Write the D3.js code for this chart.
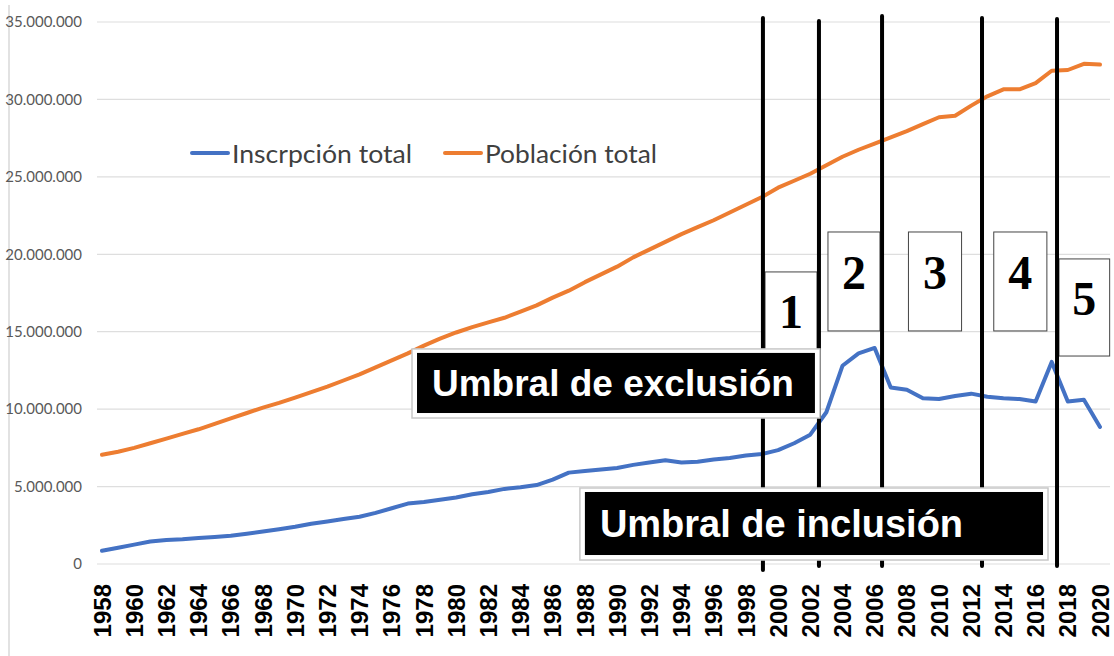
<!DOCTYPE html>
<html>
<head>
<meta charset="utf-8">
<script src="https://cdn.jsdelivr.net/npm/d3@7"></script>
<style>
  body { margin: 0; background: #fff; }
  svg { display: block; }
</style>
</head>
<body>
<svg width="1114" height="656"></svg>
<script>
// years on the x axis, one point per year
const years = d3.range(1958, 2021);

// Inscripción total (school enrollment)
const enrollment = [
  0.85, 1.05, 1.25, 1.45, 1.55, 1.6, 1.68, 1.75, 1.82, 1.95,
  2.1, 2.25, 2.4, 2.6, 2.75, 2.9, 3.05, 3.3, 3.6, 3.9,
  4.0, 4.15, 4.3, 4.5, 4.65, 4.85, 4.95, 5.1, 5.45, 5.9,
  6.0, 6.1, 6.2, 6.4, 6.55, 6.7, 6.55, 6.6, 6.75, 6.85,
  7.0, 7.1, 7.35, 7.8, 8.35, 9.8, 12.8, 13.6, 13.95, 11.4,
  11.25, 10.7, 10.65, 10.85, 11.0, 10.8, 10.7, 10.65, 10.5, 13.05,
  10.5, 10.6, 8.85
].map(v => v * 1e6);

// Población total
const population = [
  7.05, 7.25, 7.5, 7.8, 8.1, 8.4, 8.7, 9.05, 9.4, 9.75,
  10.1, 10.4, 10.75, 11.1, 11.45, 11.85, 12.25, 12.7, 13.15, 13.6,
  14.1, 14.55, 14.95, 15.3, 15.6, 15.9, 16.3, 16.7, 17.2, 17.65,
  18.2, 18.7, 19.2, 19.8, 20.3, 20.8, 21.3, 21.75, 22.2, 22.7,
  23.2, 23.7, 24.3, 24.75, 25.2, 25.75, 26.3, 26.75, 27.15, 27.55,
  27.95, 28.4, 28.85, 28.95, 29.6, 30.2, 30.65, 30.65, 31.05, 31.85,
  31.9, 32.3, 32.25
].map(v => v * 1e6);

const yTicks = [0, 5e6, 10e6, 15e6, 20e6, 25e6, 30e6, 35e6];
const xTickYears = years.filter(y => (y - 1958) % 2 === 0);

const seriesNames = ['Inscrpción total', 'Población total'];
const seriesColors = ['#4472c4', '#ed7d31'];

// hand drawn period separators (in years) and numbered boxes
const cutYears = [1999.06, 2002.54, 2006.46, 2012.67, 2017.33];
const periodBoxes = [
  { n: '1', x0: 1999.19, x1: 2002.42, top: 18.86e6, bottom: 11.2e6, base: 15.24e6 },
  { n: '2', x0: 2003.1, x1: 2006.33, top: 21.44e6, bottom: 15.05e6, base: 17.76e6 },
  { n: '3', x0: 2008.1, x1: 2011.4, top: 21.44e6, bottom: 15.05e6, base: 17.76e6 },
  { n: '4', x0: 2013.4, x1: 2016.7, top: 21.44e6, bottom: 15.05e6, base: 17.76e6 },
  { n: '5', x0: 2017.45, x1: 2020.6, top: 19.7e6, bottom: 13.43e6, base: 16.08e6 }
];
const thresholds = [
  { text: 'Umbral de exclusión', x0: 1977.57, x1: 2002.29, top: 13.63e6, bottom: 9.75e6, size: 37 },
  { text: 'Umbral de inclusión', x0: 1988.0, x1: 2016.46, top: 4.65e6, bottom: 0.58e6, size: 38 }
];

const svg = d3.select('svg');

const x = d3.scalePoint().domain(years).range([102, 1100]);
const xYear = d3.scaleLinear().domain([1958, 2020]).range([102, 1100]);
const y = d3.scaleLinear().domain([0, 35e6]).range([564, 22]);

const fmt = d3.formatLocale({ decimal: ',', thousands: '.', grouping: [3], currency: ['', ''] }).format(',d');

// left frame edge
svg.append('line')
  .attr('x1', 9).attr('x2', 9).attr('y1', 5).attr('y2', 656)
  .attr('stroke', '#d9d9d9').attr('stroke-width', 1.5);

// gridlines + y labels
const grid = svg.append('g');
grid.selectAll('line').data(yTicks).enter().append('line')
  .attr('x1', 97).attr('x2', 1110)
  .attr('y1', d => y(d)).attr('y2', d => y(d))
  .attr('stroke', '#dedede').attr('stroke-width', 1.2);

grid.selectAll('text').data(yTicks).enter().append('text')
  .attr('x', 82).attr('y', d => y(d))
  .attr('dy', '0.35em')
  .attr('text-anchor', 'end')
  .attr('font-family', 'Lato, sans-serif')
  .attr('font-size', 15)
  .attr('fill', '#595959')
  .text(d => fmt(d));

// x labels
svg.append('g').selectAll('text').data(xTickYears).enter().append('text')
  .attr('transform', d => 'translate(' + x(d) + ',584) rotate(-90)')
  .attr('dy', '0.36em')
  .attr('text-anchor', 'end')
  .attr('font-family', '"Liberation Sans", Arial, sans-serif')
  .attr('font-weight', 'bold')
  .attr('font-size', 24)
  .attr('fill', '#000')
  .text(d => d);

// series lines
const line = d3.line()
  .x((d, i) => x(years[i]))
  .y(d => y(d));

[enrollment, population].forEach(function (s, i) {
  svg.append('path')
    .datum(s)
    .attr('d', line)
    .attr('fill', 'none')
    .attr('stroke', seriesColors[i])
    .attr('stroke-width', 4)
    .attr('stroke-linejoin', 'round')
    .attr('stroke-linecap', 'round');
});

// legend
const legendPos = [192, 445];
seriesNames.forEach(function (name, i) {
  const lx = legendPos[i];
  svg.append('line')
    .attr('x1', lx).attr('x2', lx + 36).attr('y1', 153).attr('y2', 153)
    .attr('stroke', seriesColors[i]).attr('stroke-width', 4)
    .attr('stroke-linecap', 'round');
  svg.append('text')
    .attr('x', lx + 40).attr('y', 163)
    .attr('font-family', 'Lato, sans-serif')
    .attr('font-size', 25)
    .attr('fill', '#404040')
    .attr('textLength', i === 0 ? 180 : 172)
    .attr('lengthAdjust', 'spacingAndGlyphs')
    .text(name);
});

// numbered period boxes
const boxes = svg.append('g');
periodBoxes.forEach(function (b) {
  boxes.append('rect')
    .attr('x', xYear(b.x0)).attr('y', y(b.top))
    .attr('width', xYear(b.x1) - xYear(b.x0))
    .attr('height', y(b.bottom) - y(b.top))
    .attr('fill', '#fff')
    .attr('stroke', '#444').attr('stroke-width', 1);
  boxes.append('text')
    .attr('x', (xYear(b.x0) + xYear(b.x1)) / 2)
    .attr('y', y(b.base))
    .attr('text-anchor', 'middle')
    .attr('font-family', '"Liberation Serif", "Times New Roman", serif')
    .attr('font-weight', 'bold')
    .attr('font-size', 48)
    .attr('fill', '#000')
    .text(b.n);
});

// vertical separators
const cutTops = [18, 21, 16, 18, 19];
const cutBottoms = [570, 566, 566, 566, 566];
svg.append('g').selectAll('line').data(cutYears).enter().append('line')
  .attr('x1', d => xYear(d)).attr('x2', d => xYear(d))
  .attr('y1', (d, i) => cutTops[i]).attr('y2', (d, i) => cutBottoms[i])
  .attr('stroke', '#000').attr('stroke-width', 4)
  .attr('stroke-linecap', 'round');

// threshold labels
thresholds.forEach(function (t) {
  const x0 = xYear(t.x0), x1 = xYear(t.x1), y0 = y(t.top), y1 = y(t.bottom);
  svg.append('rect')
    .attr('x', x0 - 5).attr('y', y0 - 4)
    .attr('width', x1 - x0 + 10).attr('height', y1 - y0 + 9)
    .attr('fill', '#fff')
    .attr('stroke', '#c8c8c8').attr('stroke-width', 1.5);
  svg.append('rect')
    .attr('x', x0).attr('y', y0)
    .attr('width', x1 - x0).attr('height', y1 - y0)
    .attr('fill', '#000');
  svg.append('text')
    .attr('x', x0 + 15)
    .attr('y', (y0 + y1) / 2)
    .attr('dy', '0.36em')
    .attr('font-family', '"Liberation Sans", Arial, sans-serif')
    .attr('font-weight', 'bold')
    .attr('font-size', t.size)
    .attr('fill', '#fff')
    .text(t.text);
});
</script>
</body>
</html>
